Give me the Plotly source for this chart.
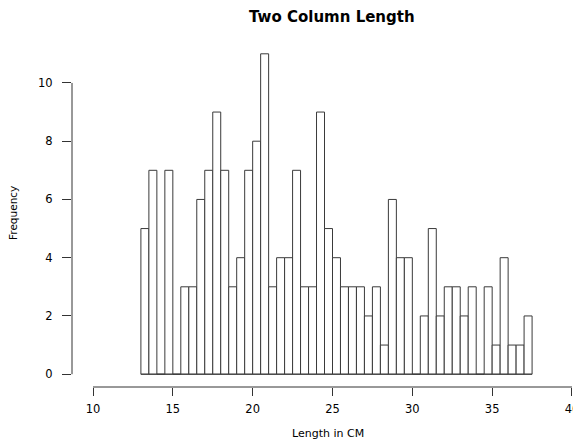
import plotly.graph_objects as go

# Histogram bins (left edges, cm) and counts
bin_left = [13.0, 13.5, 14.0, 14.5, 15.0, 15.5, 16.0, 16.5, 17.0, 17.5,
            18.0, 18.5, 19.0, 19.5, 20.0, 20.5, 21.0, 21.5, 22.0, 22.5,
            23.0, 23.5, 24.0, 24.5, 25.0, 25.5, 26.0, 26.5, 27.0, 27.5,
            28.0, 28.5, 29.0, 29.5, 30.0, 30.5, 31.0, 31.5, 32.0, 32.5,
            33.0, 33.5, 34.0, 34.5, 35.0, 35.5, 36.0, 36.5, 37.0]
counts = [5, 7, 0, 7, 0, 3, 3, 6, 7, 9,
          7, 3, 4, 7, 8, 11, 3, 4, 4, 7,
          3, 3, 9, 5, 4, 3, 3, 3, 2, 3,
          1, 6, 4, 4, 0, 2, 5, 2, 3, 3,
          2, 3, 0, 3, 1, 4, 1, 1, 2]
bin_width = 0.5

x_ticks = [10, 15, 20, 25, 30, 35, 40]
y_ticks = [0, 2, 4, 6, 8, 10]

title_text = "Two Column Length"
x_title = "Length in CM"
y_title = "Frequency"

FONT = "DejaVu Sans"
AX = "#333333"
BAR_LINE = "#3a3a3a"

fig = go.Figure()
fig.add_trace(go.Bar(
    x=[b + bin_width / 2 for b in bin_left],
    y=counts,
    width=bin_width,
    marker=dict(color="white", line=dict(color=BAR_LINE, width=1)),
    hoverinfo="x+y",
))

# baseline under the bars (shows under empty bins too)
fig.add_shape(type="line", xref="x", yref="y",
              x0=bin_left[0], x1=bin_left[-1] + bin_width, y0=0, y1=0,
              line=dict(color=BAR_LINE, width=1))
# R-style axis lines spanning first to last tick
fig.add_shape(type="line", xref="x", yref="paper",
              x0=x_ticks[0], x1=x_ticks[-1], y0=0, y1=0,
              line=dict(color=AX, width=1))
fig.add_shape(type="line", xref="paper", yref="y",
              x0=0, x1=0, y0=y_ticks[0], y1=y_ticks[-1],
              line=dict(color=AX, width=1))

# page body has an 8px margin, so the figure is 8px smaller than the window
fig.update_layout(
    width=573, height=435,
    margin=dict(l=64, r=0, t=33, b=56),
    paper_bgcolor="white", plot_bgcolor="white",
    showlegend=False,
    font=dict(family=FONT, size=11, color="black"),
    xaxis=dict(range=[8.685, 40.564], tickvals=x_ticks, ticks="outside",
               ticklen=8, tickcolor=AX, showline=False, showgrid=False,
               zeroline=False, ticklabelstandoff=3, automargin=False,
               tickfont=dict(family=FONT, size=11.5, color="black")),
    yaxis=dict(range=[-0.44, 11.44], tickvals=y_ticks, ticks="outside",
               ticklen=9, tickcolor=AX, showline=False, showgrid=False,
               zeroline=False, ticklabelstandoff=7, automargin=False,
               tickfont=dict(family=FONT, size=11.5, color="black")),
    annotations=[
        dict(text="<b>" + title_text + "</b>", xref="paper", yref="paper",
             x=0.511, y=1.0708, xanchor="center", yanchor="middle",
             showarrow=False, font=dict(family=FONT, size=15, color="black")),
        dict(text=x_title, xref="paper", yref="paper",
             x=0.503, y=-0.1358, xanchor="center", yanchor="middle",
             showarrow=False, font=dict(family=FONT, size=11, color="black")),
        dict(text=y_title, xref="paper", yref="paper", textangle=-90,
             x=-0.1159, y=0.503, xanchor="center", yanchor="middle",
             showarrow=False, font=dict(family=FONT, size=10.5, color="black")),
    ],
)

fig.write_html("out.html")
